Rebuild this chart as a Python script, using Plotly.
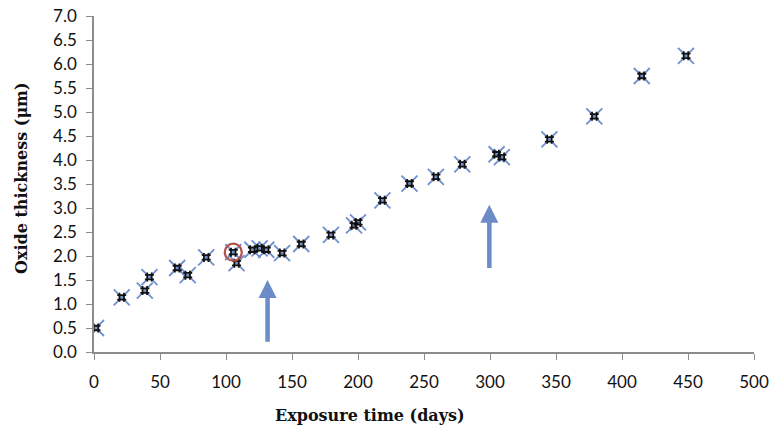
import plotly.graph_objects as go

days = [1.5, 21, 38.5, 42, 63, 71, 85, 105.5, 108, 120, 125.5, 130.5, 142.5, 157,
        179.5, 197, 200, 218.5, 239, 259, 279, 305, 309, 345, 379, 415, 448.5]
thickness = [0.5, 1.14, 1.28, 1.56, 1.75, 1.6, 1.97, 2.08, 1.85, 2.13, 2.16, 2.13, 2.06, 2.25,
             2.44, 2.64, 2.7, 3.16, 3.51, 3.65, 3.91, 4.12, 4.06, 4.43, 4.91, 5.75, 6.17]
circled_day = [105.5]
circled_val = [2.08]
arrows = [(131.5, 1.5, 0.18), (299.5, 3.07, 1.72)]  # x, tip y, tail y

x_ticks = list(range(0, 501, 50))
y_ticks = [i * 0.5 for i in range(15)]
x_title = "Exposure time (days)"
y_title = "Oxide thickness (μm)"

fig = go.Figure()
fig.add_trace(go.Scatter(x=days, y=thickness, mode="markers",
                         marker=dict(symbol="x-thin-open", size=16, color="#6F8FCF",
                                     line=dict(color="#6F8FCF", width=1.8))))
fig.add_trace(go.Scatter(x=days, y=thickness, mode="markers",
                         marker=dict(symbol="hash-open", size=9, color="#111111",
                                     line=dict(color="#111111", width=1.8))))
fig.add_trace(go.Scatter(x=circled_day, y=circled_val, mode="markers",
                         marker=dict(symbol="circle-open", size=17, color="#B5514B",
                                     line=dict(color="#B5514B", width=2.2))))

for xa, tip, tail in arrows:
    fig.add_annotation(x=xa, y=tip, ax=xa, ay=tail, xref="x", yref="y", axref="x", ayref="y",
                       showarrow=True, arrowhead=2, arrowsize=0.8, arrowwidth=4.5,
                       arrowcolor="#6C8CC8", text="")

title_font = dict(family="DejaVu Serif", size=16, color="#111111")
fig.add_annotation(text=f"<b>{x_title}</b>", xref="paper", yref="paper", x=0.418, y=-0.1875,
                   showarrow=False, xanchor="center", yanchor="middle", font=title_font)
fig.add_annotation(text=f"<b>{y_title}</b>", xref="paper", yref="paper", x=-0.109, y=0.518,
                   showarrow=False, xanchor="center", yanchor="middle", textangle=-90, font=title_font)

axis_common = dict(showline=True, linecolor="#8C8C8C", linewidth=1.5, ticks="outside",
                   tickcolor="#8C8C8C", ticklen=6, tickwidth=1.3, showgrid=False, zeroline=False,
                   automargin=False,
                   tickfont=dict(family="Lato", size=17, color="#111111"))

fig.update_xaxes(range=[0, 500], tickvals=x_ticks, ticktext=[str(v) for v in x_ticks],
                 ticklabelstandoff=8, **axis_common)
fig.update_yaxes(range=[0, 7], tickvals=y_ticks, ticktext=[f"{v:.1f}" for v in y_ticks],
                 ticklabelstandoff=6, **axis_common)

fig.update_layout(width=769, height=430, margin=dict(l=94, r=15, t=16, b=78),
                  plot_bgcolor="white", paper_bgcolor="white", showlegend=False)

fig.write_html("out.html")
